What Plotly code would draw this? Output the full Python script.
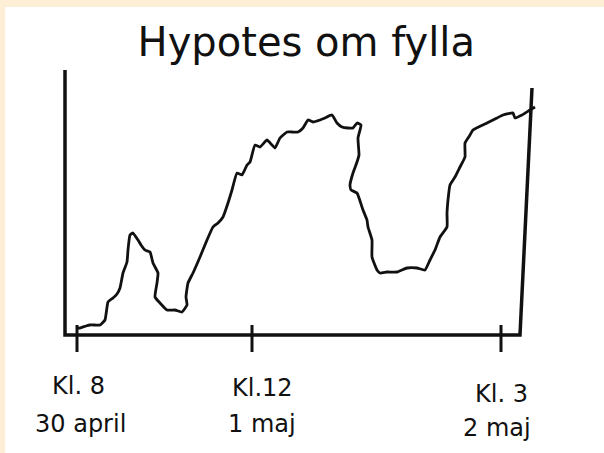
import plotly.graph_objects as go

# ---- data (x = time position, y = level, arbitrary units) ----
curve_x = [0, 3, 9, 13, 18, 23, 28, 31, 36, 40, 43, 46, 50, 51, 53, 56, 61, 64, 68, 73,
           76, 81, 80, 78, 83, 90, 98, 105, 110, 109, 111, 116, 123, 130, 136, 141, 146, 151, 155, 160,
           165, 170, 173, 178, 183, 190, 195, 198, 203, 210, 215, 221, 226, 231, 236, 243, 248, 255, 260, 265,
           271, 276, 280, 284, 281, 282, 280, 276, 273, 274, 280, 286, 290, 291, 295, 295, 300, 303, 310, 320,
           330, 340, 348, 353, 358, 363, 370, 370, 371, 373, 378, 383, 388, 388, 393, 396, 410, 420, 426, 436,
           438, 445, 453, 458]
curve_y = [7, 7, 9, 10, 10, 10, 15, 33, 37, 41, 47, 62, 73, 85, 100, 102, 95, 90, 85, 83,
           72, 62, 52, 38, 32, 25, 25, 23, 30, 38, 52, 62, 78, 95, 108, 112, 118, 132, 145, 162,
           160, 170, 173, 190, 188, 195, 190, 187, 197, 203, 203, 203, 207, 215, 213, 215, 217, 220, 212, 208,
           207, 207, 212, 210, 197, 180, 173, 162, 150, 145, 142, 125, 115, 108, 95, 78, 65, 62, 63, 63,
           67, 67, 65, 75, 85, 98, 108, 122, 135, 150, 158, 168, 178, 192, 200, 205, 212, 217, 220, 222,
           217, 220, 225, 228]

tick_positions = [0, 175, 424]
tick_line1 = ["Kl. 8", "Kl.12", "Kl. 3"]
tick_line2 = ["30 april", "1 maj", "2 maj"]
title_text = "Hypotes om fylla"

# ---- styling / layout constants ----
INK = "#111111"
BEIGE = "#fcefd5"
FONT = "DejaVu Sans"
frame_path = "M -12,265 L -12,0 L 443,0 L 455,247"
label1_dx = [1, 10, 0]
label1_y = [-51, -53, -59]
label2_dx = [3, 10, -4]
label2_y = [-89, -89, -93]

fig = go.Figure()
fig.add_trace(go.Scatter(
    x=curve_x, y=curve_y, mode="lines",
    line=dict(color=INK, width=2.8, shape="spline", smoothing=0.4),
    hoverinfo="skip", showlegend=False,
))

shapes = [dict(type="path", path=frame_path, xref="x", yref="y",
               line=dict(color=INK, width=3.5))]
for t in tick_positions:
    shapes.append(dict(type="line", xref="x", yref="y", x0=t, x1=t, y0=10, y1=-17,
                       line=dict(color=INK, width=3)))

annotations = []
for t, a, b, dx1, y1, dx2, y2 in zip(tick_positions, tick_line1, tick_line2,
                                     label1_dx, label1_y, label2_dx, label2_y):
    annotations.append(dict(x=t, y=y1, xref="x", yref="y", text=a, showarrow=False,
                            xshift=dx1, xanchor="center", yanchor="middle",
                            font=dict(family=FONT, size=24, color=INK)))
    annotations.append(dict(x=t, y=y2, xref="x", yref="y", text=b, showarrow=False,
                            xshift=dx2, xanchor="center", yanchor="middle",
                            font=dict(family=FONT, size=24, color=INK)))

fig.update_layout(
    width=604, height=453, autosize=False,
    margin=dict(l=5, r=0, t=7, b=0, pad=0),
    paper_bgcolor=BEIGE, plot_bgcolor="white",
    title=dict(text=title_text, x=0.503, xanchor="center", xref="paper",
               y=1 - 42 / 453, yref="container", yanchor="middle",
               font=dict(family=FONT, size=40, color=INK)),
    xaxis=dict(range=[-72, 527], visible=False, fixedrange=True),
    yaxis=dict(range=[-118, 328], visible=False, fixedrange=True),
    shapes=shapes, annotations=annotations, showlegend=False,
)

fig.write_html("out.html", config={"displayModeBar": False},
               post_script="document.body.style.margin='0';document.body.style.overflow='hidden';")
